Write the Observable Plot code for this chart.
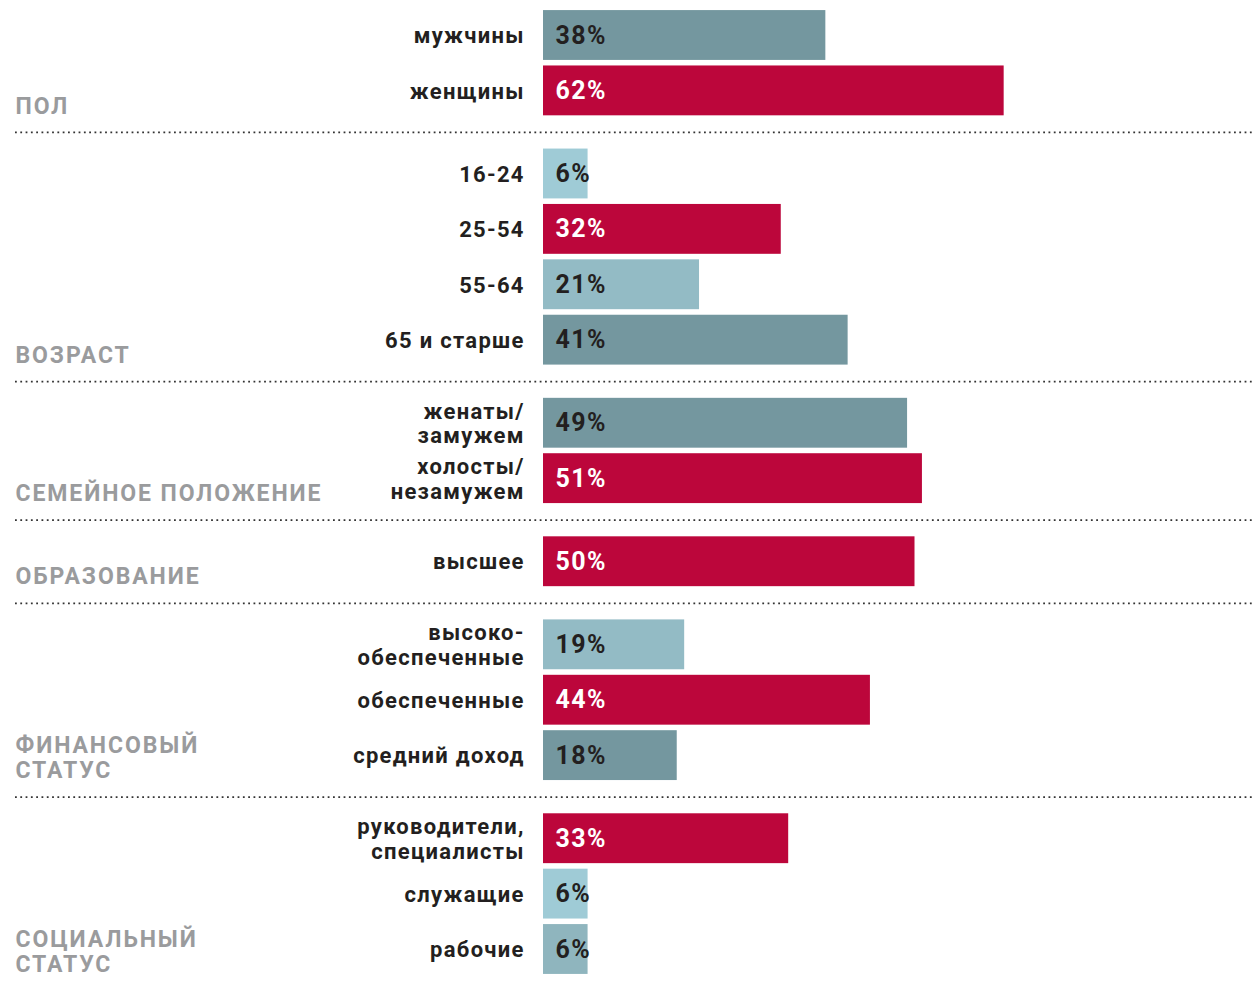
<!DOCTYPE html>
<html><head><meta charset="utf-8">
<script src="https://cdn.jsdelivr.net/npm/d3@7"></script>
<script src="https://cdn.jsdelivr.net/npm/@observablehq/plot@0.6"></script>
<style>body{margin:0;background:#fff}</style>
</head><body><div id="chart"></div>
<script>
const groups = ["ПОЛ","ВОЗРАСТ","СЕМЕЙНОЕ ПОЛОЖЕНИЕ","ОБРАЗОВАНИЕ","ФИНАНСОВЫЙ\nСТАТУС","СОЦИАЛЬНЫЙ\nСТАТУС"];
const groupSizes = [2,4,2,1,3,3];
const categories = ["мужчины","женщины","16-24","25-54","55-64","65 и старше","женаты/\nзамужем","холосты/\nнезамужем","высшее","высоко-\nобеспеченные","обеспеченные","средний доход","руководители,\nспециалисты","служащие","рабочие"];
const values = [38,62,6,32,21,41,49,51,50,19,44,18,33,6,6];
const tones = ["dark","accent","light","accent","mid","dark","dark","accent","accent","mid","accent","dark","accent","light","mid2"];

const toneDomain = ["dark","accent","light","mid","mid2"];
const toneColors = ["#74979f","#bc063b","#9fcbd6","#93bbc5","#8fb5be"];

// layout derived from structure: row index + half-row gap between groups
const rows = [];
const groupInfo = [];
let idx = 0;
groups.forEach((g, gi) => {
  const first = idx + 0.5 * gi;
  for (let j = 0; j < groupSizes[gi]; j++) {
    rows.push({cat: categories[idx], value: values[idx], tone: tones[idx], pos: idx + 0.5 * gi});
    idx++;
  }
  const last = idx - 1 + 0.5 * gi;
  groupInfo.push({name: g, first, last});
});
const separators = groupInfo.slice(0, -1).map((g, i) => ({y: (g.last + groupInfo[i + 1].first) / 2}));
const maxPos = rows[rows.length - 1].pos;

const font = "Roboto, 'DejaVu Sans', sans-serif";
const chart = Plot.plot({
  width: 1254,
  height: 989,
  marginLeft: 15,
  marginRight: 2,
  marginTop: 0,
  marginBottom: 0,
  style: {fontFamily: font, background: "#fff"},
  x: {domain: [0, 100], range: [543, 543 + 743], axis: null},
  y: {domain: [0, maxPos], range: [35, 949], axis: null},
  color: {domain: toneDomain, range: toneColors},
  marks: [
    Plot.ruleY(separators, {y: "y", stroke: "#333", strokeWidth: 1.8, strokeDasharray: "1.8,3.5"}),
    Plot.rectX(rows, {x: "value", y1: d => d.pos - 0.45, y2: d => d.pos + 0.45, fill: "tone"}),
    Plot.text(rows, {x: 0, y: "pos", text: d => d.value + "%", textAnchor: "start", dx: 12,
      fill: d => d.tone === "accent" ? "#ffffff" : "#231f20", fontSize: 25, fontWeight: 700}),
    Plot.text(rows, {x: 0, y: "pos", text: "cat", textAnchor: "end", dx: -18.7, lineHeight: 1.1,
      fill: "#231f20", fontSize: 22, fontWeight: 700}),
    Plot.text(groupInfo, {frameAnchor: "left", y: d => d.last + 0.41, text: "name", textAnchor: "start",
      lineAnchor: "bottom", lineHeight: 1.1, fill: "#9a9b9d", fontSize: 23, fontWeight: 700})
  ]
});
const textGroups = d3.select(chart).selectAll('g[aria-label="text"]').nodes();
const spacings = ["1.4px", "1.3px", "1.9px"];
textGroups.forEach((g, i) => d3.select(g).style("letter-spacing", spacings[i] || null));
document.getElementById("chart").append(chart);
</script>
</body></html>
